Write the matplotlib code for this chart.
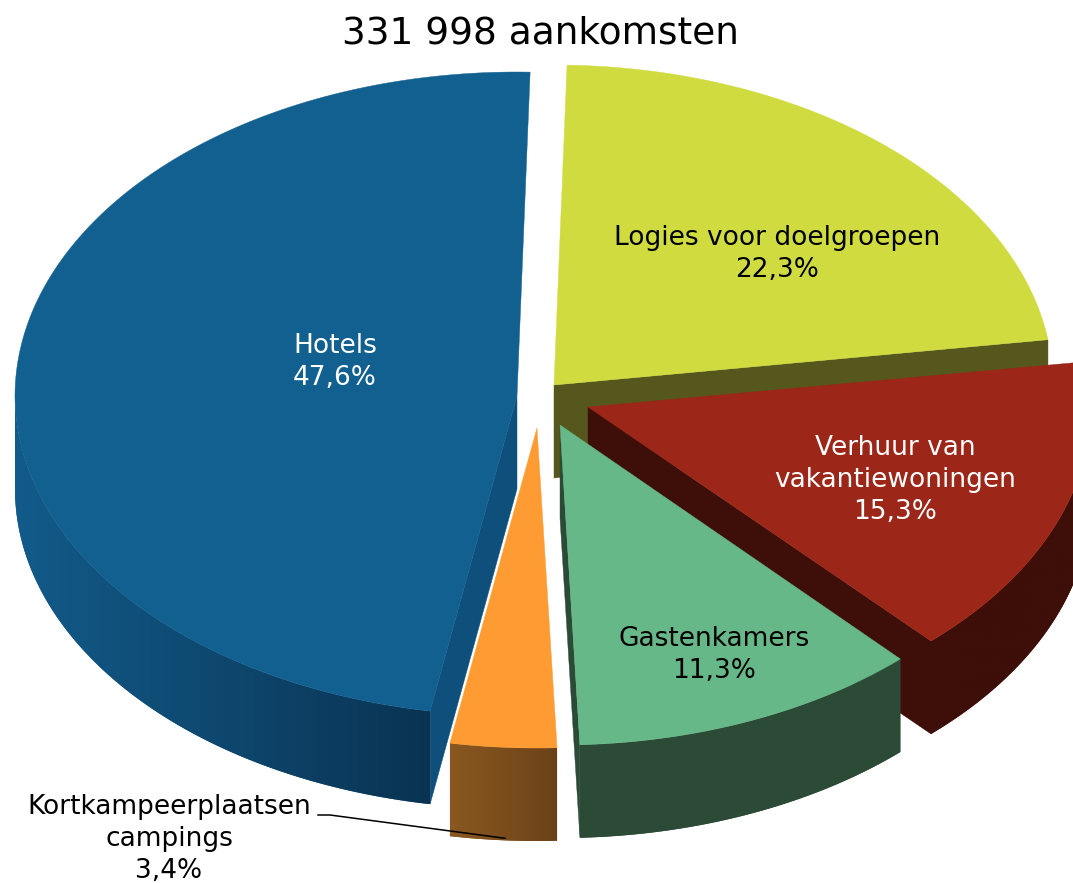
import numpy as np
import matplotlib
matplotlib.use("Agg")
import matplotlib.pyplot as plt
from matplotlib.patches import Polygon
from matplotlib.colors import to_rgb

title = "331 998 aankomsten"
categories = ["Logies voor doelgroepen", "Verhuur van\nvakantiewoningen", "Gastenkamers",
              "Kortkampeerplaatsen\ncampings", "Hotels"]
values = [22.3, 15.3, 11.3, 3.4, 47.6]
value_labels = ["22,3%", "15,3%", "11,3%", "3,4%", "47,6%"]

# styling / layout (pixel space of the figure)
top_colors = ["#cfdb3f", "#9c2617", "#67b888", "#ff9b33", "#126090"]
wall_left = ["#56571c", "#3d0f08", "#2c4b37", "#8a5820", "#125b8a"]
wall_right = ["#56571c", "#3d0f08", "#2c4b37", "#6b4218", "#0a3352"]
face_colors = ["#56571c", "#3d0f08", "#2c4b37", None, "#0e4f7b"]
apex_x = [554, 588, 560, 537, 517]
apex_y = [385, 407, 425, 428, 396]
radius_x = [499, 503, 499, 503, 502]
radius_y_back = [320, 320, 320, 320, 324]
text_colors = ["black", "white", "black", "black", "white"]
label_xy = [(777, 254), (895, 480), (714, 655), (169, 839), (335, 362)]
RY, DEPTH = 320, 93
START = 1.5

fig = plt.figure(figsize=(10.73, 8.83), dpi=100)
ax = fig.add_axes([0, 0, 1, 1])

scale = 360.0 / sum(values)
edges = START + np.concatenate([[0], np.cumsum(values)]) * scale


def rim(i, t):
    r = np.radians(t)
    c = np.cos(r)
    return apex_x[i] + radius_x[i] * np.sin(r), apex_y[i] - np.where(c > 0, radius_y_back[i], RY) * c


for i in range(len(values)):
    t0, t1 = edges[i], edges[i + 1]
    a_x, a_y = apex_x[i], apex_y[i]
    ts = np.linspace(t0, t1, 240)
    xs, ys = rim(i, ts)

    # flat face along the straight cut of the slice
    if face_colors[i]:
        ex, ey = rim(i, t1 if i != 4 else t0)
        ax.add_patch(Polygon([(a_x, a_y), (ex, ey), (ex, ey + DEPTH), (a_x, a_y + DEPTH)],
                             fc=face_colors[i], ec=face_colors[i], lw=0.3, zorder=i * 3 + 1))

    # outer wall, only the part facing the viewer, shaded left to right
    lo, hi = max(t0, 90.0), min(t1, 270.0)
    if hi > lo:
        wt = np.linspace(lo, hi, 200)
        wx, wy = rim(i, wt)
        poly = Polygon(np.column_stack([np.r_[wx, wx[::-1]], np.r_[wy, wy[::-1] + DEPTH]]),
                       fc=wall_left[i], ec="none", zorder=i * 3 + 1)
        ax.add_patch(poly)
        c0, c1 = np.array(to_rgb(wall_left[i])), np.array(to_rgb(wall_right[i]))
        ramp = np.linspace(0, 1, 256)[None, :, None]
        img = c0[None, None, :] + (c1 - c0)[None, None, :] * ramp
        im = ax.imshow(img, extent=(wx.min(), wx.max(), wy.max() + DEPTH, wy.min()),
                       aspect="auto", interpolation="bilinear", zorder=i * 3 + 1)
        im.set_clip_path(poly)

    # top surface
    ax.add_patch(Polygon(np.column_stack([np.r_[a_x, xs], np.r_[a_y, ys]]),
                         fc=top_colors[i], ec=top_colors[i], lw=0.3, zorder=i * 3 + 2))

ax.set_xlim(0, 1073)
ax.set_ylim(883, 0)
ax.axis("off")

for i, (x, y) in enumerate(label_xy):
    ax.text(x, y, categories[i] + "\n" + value_labels[i], ha="center", va="center",
            ma="center", fontsize=19, color=text_colors[i], linespacing=1.3, zorder=40,
            family="DejaVu Sans")

ax.text(540, 33, title, ha="center", va="center", fontsize=27, color="black", zorder=40,
        family="DejaVu Sans")

# leader line from the small slice to its label
lx, ly = rim(3, (edges[3] + edges[4]) / 2)
ax.plot([318, 330, 505], [815, 815, ly + DEPTH - 2], color="black", lw=1.1, zorder=41)

fig.savefig("out.png", dpi=100, facecolor="white")
